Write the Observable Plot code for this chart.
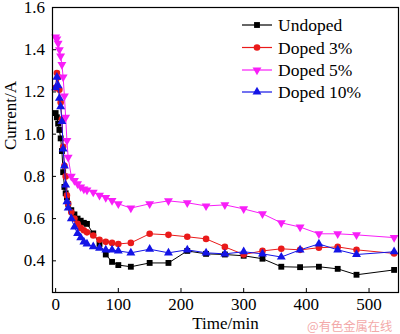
<!DOCTYPE html>
<html><head><meta charset="utf-8">
<script src="https://cdn.jsdelivr.net/npm/d3@7"></script>
<script src="https://cdn.jsdelivr.net/npm/@observablehq/plot@0.6"></script>
<style>
body{margin:0;background:#fff;}
#wrap{position:relative;width:400px;height:334px;overflow:hidden;font-family:'Liberation Serif',Tinos,'Times New Roman','DejaVu Serif',serif;}
#wrap svg text{font-family:'Liberation Serif',Tinos,'Times New Roman','DejaVu Serif',serif;}
#wm{position:absolute;left:307px;top:318px;font-family:"Noto Sans CJK SC",sans-serif;font-size:12.3px;color:#f3a9a9;white-space:nowrap;line-height:16px;}
#legend{position:absolute;left:0;top:0;}
</style></head><body><div id="wrap"></div>
<script>
const time = [0, 2, 4, 6, 8, 10, 12, 14, 16, 18, 20, 25, 30, 35, 40, 45, 50, 60, 70, 80, 90, 100, 120, 150, 180, 210, 240, 270, 300, 330, 360, 390, 420, 450, 480, 540];
const undoped = [1.10, 1.08, 1.05, 1.02, 0.98, 0.92, 0.82, 0.75, 0.72, 0.70, 0.67, 0.64, 0.62, 0.60, 0.59, 0.58, 0.575, 0.53, 0.48, 0.43, 0.395, 0.38, 0.372, 0.39, 0.39, 0.447, 0.433, 0.43, 0.424, 0.41, 0.372, 0.37, 0.372, 0.362, 0.334, 0.357];
const doped3 = [1.22, 1.29, 1.27, 1.21, 1.15, 1.07, 0.94, 0.85, 0.80, 0.71, 0.67, 0.63, 0.60, 0.575, 0.556, 0.545, 0.535, 0.52, 0.50, 0.49, 0.485, 0.48, 0.485, 0.528, 0.523, 0.514, 0.504, 0.466, 0.43, 0.447, 0.457, 0.452, 0.462, 0.466, 0.452, 0.435];
const doped5 = [1.46, 1.45, 1.43, 1.40, 1.37, 1.33, 1.27, 1.18, 1.08, 0.97, 0.89, 0.80, 0.78, 0.765, 0.75, 0.74, 0.735, 0.725, 0.71, 0.70, 0.685, 0.67, 0.65, 0.67, 0.684, 0.675, 0.66, 0.665, 0.646, 0.623, 0.58, 0.56, 0.528, 0.528, 0.523, 0.51];
const doped10 = [1.22, 1.27, 1.23, 1.17, 1.13, 1.06, 0.93, 0.85, 0.76, 0.68, 0.65, 0.60, 0.56, 0.53, 0.51, 0.49, 0.48, 0.467, 0.46, 0.452, 0.452, 0.447, 0.438, 0.455, 0.438, 0.452, 0.438, 0.433, 0.443, 0.433, 0.418, 0.452, 0.48, 0.452, 0.43, 0.443];
const seriesNames = ["Undoped", "Doped 3%", "Doped 5%", "Doped 10%"];
const seriesColors = ["#000000", "#ea1a1a", "#f81ef8", "#1414e6"];
const seriesSymbols = ["square", "circle", "triangle", "triangle"];
const seriesRotate = [0, 0, 180, 0];
const xTicks = [0, 100, 200, 300, 400, 500];
const yTicks = [0.4, 0.6, 0.8, 1.0, 1.2, 1.4, 1.6];

const FONT = "'Liberation Serif',Tinos,'Times New Roman','DejaVu Serif',serif";
const values = [undoped, doped3, doped5, doped10];
const rows = [];
values.forEach((arr, i) => arr.forEach((v, j) => rows.push({series: seriesNames[i], idx: i, time: time[j], value: v})));

const marks = [];
values.forEach((arr, i) => {
  const d = rows.filter(r => r.idx === i);
  marks.push(Plot.line(d, {x: "time", y: "value", stroke: seriesColors[i], strokeWidth: 1}));
  marks.push(Plot.dot(d, {x: "time", y: "value", fill: seriesColors[i], stroke: "none", r: 3.3, symbol: seriesSymbols[i], rotate: seriesRotate[i]}));
});

const chart = Plot.plot({
  width: 400, height: 334,
  marginLeft: 52, marginRight: 2, marginTop: 7, marginBottom: 42,
  style: {fontFamily: FONT, fontSize: "17px", color: "#000", background: "#fff"},
  x: {domain: [-5, 547]},
  y: {domain: [0.25, 1.6]},
  marks: [
    Plot.axisX({ticks: xTicks, tickSize: -4, tickPadding: 9.5, label: null, fontSize: 17, fontFamily: FONT, tickFormat: d3.format("d")}),
    Plot.axisY({ticks: yTicks, tickSize: -4, tickPadding: 11.5, label: null, fontSize: 17, fontFamily: FONT, tickFormat: d3.format(".1f")}),
    Plot.text(["Time/min"], {text: d => d, frameAnchor: "bottom", dy: 36, fontSize: 17, fontFamily: FONT}),
    Plot.text(["Current/A"], {text: d => d, frameAnchor: "left", dx: -42, rotate: -90, fontSize: 17, fontFamily: FONT}),
    ...marks,
    Plot.frame({stroke: "#000", strokeWidth: 1.2})
  ]
});
const wrap = document.getElementById("wrap");
wrap.appendChild(chart);

// legend overlay
const lg = d3.select(wrap).append("svg").attr("id", "legend").attr("width", 400).attr("height", 334);
const rowY = [25, 47.5, 70, 92];
seriesNames.forEach((name, i) => {
  const g = lg.append("g").attr("transform", `translate(0,${rowY[i]})`);
  g.append("line").attr("x1", 242).attr("x2", 272).attr("y1", 0).attr("y2", 0).attr("stroke", seriesColors[i]).attr("stroke-width", 1.2);
  g.append("path").attr("d", d3.symbol(seriesSymbols[i] === "square" ? d3.symbolSquare : seriesSymbols[i] === "circle" ? d3.symbolCircle : d3.symbolTriangle, 3.3 * 3.3 * Math.PI)())
    .attr("transform", `translate(257,0) rotate(${seriesRotate[i]})`).attr("fill", seriesColors[i]);
  g.append("text").attr("x", 278).attr("y", 0).attr("dy", "0.35em").style("font-size", "17.5px").style("font-family", FONT).text(name);
});
const wm = document.createElement("div");
wm.id = "wm"; wm.textContent = "@有色金属在线";
wrap.appendChild(wm);
</script></body></html>
